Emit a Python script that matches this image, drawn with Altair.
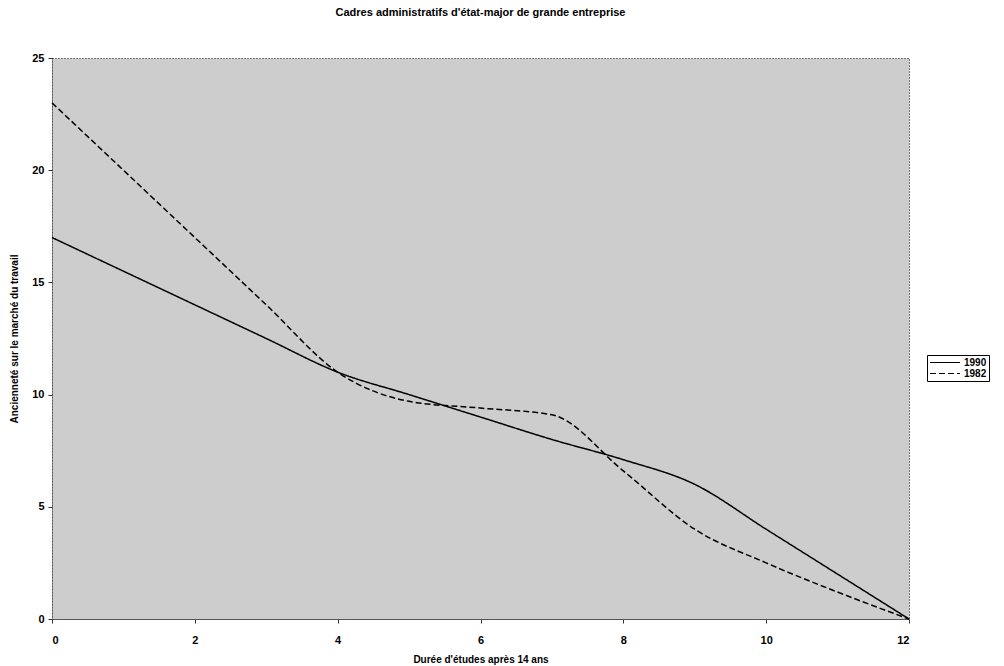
import altair as alt
import pandas as pd

# Years of study after age 14
duree = [0, 1, 2, 3, 4, 5, 6, 7, 8, 9, 10, 11, 12]
# Seniority on the labour market, by survey year
anc_1990 = [17, 15.5, 14, 12.5, 11, 10, 9, 8, 7.1, 6, 4, 2, 0]
anc_1982 = [23, 20, 17, 14, 11, 9.7, 9.4, 9.1, 6.6, 4.0, 2.5, 1.2, 0]
series = ["1990", "1982"]

rows = []
for name, vals in zip(series, [anc_1990, anc_1982]):
    for d, v in zip(duree, vals):
        rows.append({"duree": d, "anc": v, "serie": name})
df = pd.DataFrame(rows)

FONT = "Liberation Sans"

chart = (
    alt.Chart(df)
    .mark_line(interpolate="monotone", color="black", strokeWidth=1.5)
    .encode(
        x=alt.X(
            "duree:Q",
            title="Durée d'études après 14 ans",
            scale=alt.Scale(domain=[0, 12], nice=False),
            axis=alt.Axis(
                values=[0, 2, 4, 6, 8, 10, 12],
                grid=False,
                domainColor="#555555",
                tickColor="#333333",
                tickSize=4,
                labelPadding=11,
                titlePadding=9,
            ),
        ),
        y=alt.Y(
            "anc:Q",
            title="Ancienneté sur le marché du travail",
            scale=alt.Scale(domain=[0, 25], nice=False),
            axis=alt.Axis(
                values=[0, 5, 10, 15, 20, 25],
                grid=False,
                domainColor="#333333",
                domainDash=[1, 2],
                tickColor="#333333",
                tickSize=4,
                labelPadding=4,
                titlePadding=12,
            ),
        ),
        strokeDash=alt.StrokeDash(
            "serie:N",
            scale=alt.Scale(domain=series, range=[[1, 0], [6, 3]]),
            legend=alt.Legend(
                title=None,
                orient="none",
                legendX=875,
                legendY=297,
                symbolType="stroke",
                symbolSize=900,
                symbolStrokeColor="black",
                symbolStrokeWidth=1.2,
                strokeColor="black",
                fillColor="white",
                padding=2,
                rowPadding=0,
                clipHeight=11,
                labelOffset=3,
                labelFontSize=10,
                labelFontWeight="bold",
                labelFont=FONT,
                labelColor="black",
            ),
        ),
    )
    .properties(
        width=857,
        height=561,
        autosize=alt.AutoSizeParams(type="none"),
        padding={"left": 52, "top": 58, "right": 95, "bottom": 47},
        title=alt.TitleParams(
            "Cadres administratifs d'état-major de grande entreprise",
            font=FONT,
            fontSize=11,
            fontWeight="bold",
            color="black",
            offset=34,
            anchor="middle",
        ),
    )
    .configure_view(fill="#cdcdcd", stroke="black", strokeDash=[1, 2], strokeWidth=1)
    .configure_axis(
        labelFont=FONT,
        labelFontSize=11,
        labelFontWeight="bold",
        labelColor="black",
        titleFont=FONT,
        titleFontSize=10,
        titleFontWeight="bold",
        titleColor="black",
    )
)

chart.save("out.html", embed_options={"renderer": "svg", "actions": False})
